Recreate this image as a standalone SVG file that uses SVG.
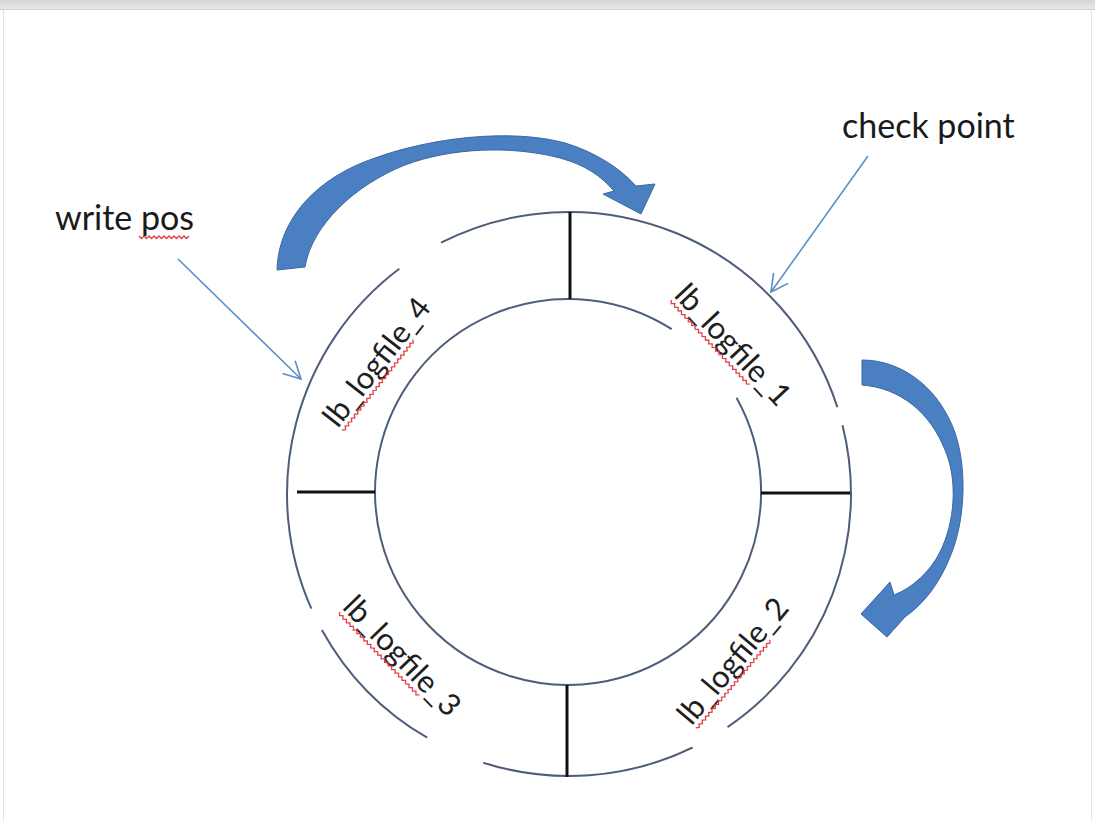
<svg xmlns="http://www.w3.org/2000/svg" width="1095" height="821" viewBox="0 0 1095 821">
  <defs>
    <style>
      .ring{fill:none;stroke:#4e5d7a;stroke-width:2}
      .tick{stroke:#111;stroke-width:3}
      .lbl{font-family:Lato,"Open Sans","Liberation Sans",sans-serif;font-size:31px;fill:#1e1e1e;text-anchor:middle}
      .note{font-family:Lato,"Open Sans","Liberation Sans",sans-serif;font-size:34px;fill:#1a1a1a}
      .squig{fill:none;stroke:#e0404a;stroke-width:1.3}
      .big{fill:#4a80c2;stroke:#3a68a3;stroke-width:1}
      .ptr{fill:none;stroke:#5b8fca;stroke-width:1.6}
    </style>
    <linearGradient id="topband" x1="0" y1="0" x2="0" y2="1">
      <stop offset="0" stop-color="#d6d6d6"/>
      <stop offset="1" stop-color="#e9e9e9"/>
    </linearGradient>
    <marker id="chev" viewBox="-20 -12 22 24" markerWidth="22" markerHeight="24" markerUnits="userSpaceOnUse" orient="auto" refX="0" refY="0">
      <path d="M-17,-9 L0,0 L-17,9" fill="none" stroke="#5b8fca" stroke-width="1.6"/>
    </marker>
    <!-- spell-check wavy underline -->
    <path id="sqLong" class="squig" d="M0,0l2.5,2.5l2.5,-2.5l2.5,2.5l2.5,-2.5l2.5,2.5l2.5,-2.5l2.5,2.5l2.5,-2.5l2.5,2.5l2.5,-2.5l2.5,2.5l2.5,-2.5l2.5,2.5l2.5,-2.5l2.5,2.5l2.5,-2.5l2.5,2.5l2.5,-2.5l2.5,2.5l2.5,-2.5l2.5,2.5l2.5,-2.5l2.5,2.5l2.5,-2.5l2.5,2.5l2.5,-2.5l2.5,2.5l2.5,-2.5l2.5,2.5l2.5,-2.5l2.5,2.5l2.5,-2.5l2.5,2.5l2.5,-2.5l2.5,2.5l2.5,-2.5l2.5,2.5l2.5,-2.5l2.5,2.5l2.5,-2.5l2.5,2.5l2.5,-2.5l2.5,2.5l2.5,-2.5l2.5,2.5l2.5,-2.5"/>
    <path id="sqShort" class="squig" d="M0,0l2.5,2.5l2.5,-2.5l2.5,2.5l2.5,-2.5l2.5,2.5l2.5,-2.5l2.5,2.5l2.5,-2.5l2.5,2.5l2.5,-2.5l2.5,2.5l2.5,-2.5l2.5,2.5l2.5,-2.5l2.5,2.5l2.5,-2.5l2.5,2.5l2.5,-2.5l2.5,2.5l2.5,-2.5"/>
  </defs>

  <!-- page -->
  <rect x="0" y="0" width="1095" height="821" fill="#ffffff"/>
  <rect x="0" y="0" width="1095" height="9" fill="url(#topband)"/>
  <line x1="0" y1="9.5" x2="1095" y2="9.5" stroke="#cfcfcf" stroke-width="1"/>
  <line x1="3.5" y1="10" x2="3.5" y2="821" stroke="#e2e2e2" stroke-width="1"/>
  <line x1="1091.5" y1="10" x2="1091.5" y2="821" stroke="#e6e6e6" stroke-width="1"/>

  <!-- ring of log files -->
  <g id="ring">
    <path class="ring" d="M441.0,242.7 A282,282 0 0 1 837.4,407.3"/>
    <path class="ring" d="M842.5,425.3 A282,282 0 0 1 727.5,727.2"/>
    <path class="ring" d="M692.6,747.5 A282,282 0 0 1 483.3,762.7"/>
    <path class="ring" d="M427.2,737.7 A282,282 0 0 1 321.9,629.9"/>
    <path class="ring" d="M311.4,608.7 A282,282 0 0 1 399.3,268.8"/>
    <path class="ring" d="M736.5,397.8 A193,193 0 1 1 671.7,329.2"/>
    <line class="tick" x1="570" y1="212" x2="570" y2="299"/>
    <line class="tick" x1="297" y1="492" x2="375" y2="492"/>
    <line class="tick" x1="761" y1="493" x2="850" y2="493"/>
    <line class="tick" x1="567" y1="685" x2="567" y2="777"/>
  </g>

  <g id="logfile1" transform="translate(732,346) rotate(47)">
    <text class="lbl" x="0" y="9">lb_logfile_1</text>
    <use href="#sqLong" x="-75" y="13"/>
  </g>
  <g id="logfile2" transform="translate(734,662) rotate(-50)">
    <text class="lbl" x="0" y="9">lb_logfile_2</text>
    <use href="#sqLong" x="-75" y="13"/>
  </g>
  <g id="logfile3" transform="translate(401,657) rotate(46)">
    <text class="lbl" x="0" y="9">lb_logfile_3</text>
    <use href="#sqLong" x="-75" y="13"/>
  </g>
  <g id="logfile4" transform="translate(378,363) rotate(-52)">
    <text class="lbl" x="0" y="9">lb_logfile_4</text>
    <use href="#sqLong" x="-75" y="13"/>
  </g>

  <g id="writePos">
    <text class="note" x="55" y="230">write pos</text>
    <use href="#sqShort" x="139" y="236"/>
  </g>
  <g id="checkPoint">
    <text class="note" x="842" y="138">check point</text>
  </g>

  <!-- connectors -->
  <g id="connectors">
    <path class="big" d="M277,270 C278,225 310,180 375,158 C430,138 510,128 565,143 C595,152 620,168 636,186 L655,184 L641,214 L603,194 L614,191 C600,175 585,165 560,158 C510,145 450,148 405,165 C355,185 312,225 305,267 Z"/>
    <path class="big" d="M862,360 C900,360 935,385 952,425 C968,462 966,520 950,557 C940,582 925,603 905,617 L887,637 L861,614 L890,582 L894,595 C912,588 930,572 940,552 C955,522 958,480 945,450 C930,412 900,388 862,385 Z"/>
    <path class="ptr" d="M178,259 L301,379" marker-end="url(#chev)"/>
    <path class="ptr" d="M868,156 L771,292" marker-end="url(#chev)"/>
  </g>
</svg>
